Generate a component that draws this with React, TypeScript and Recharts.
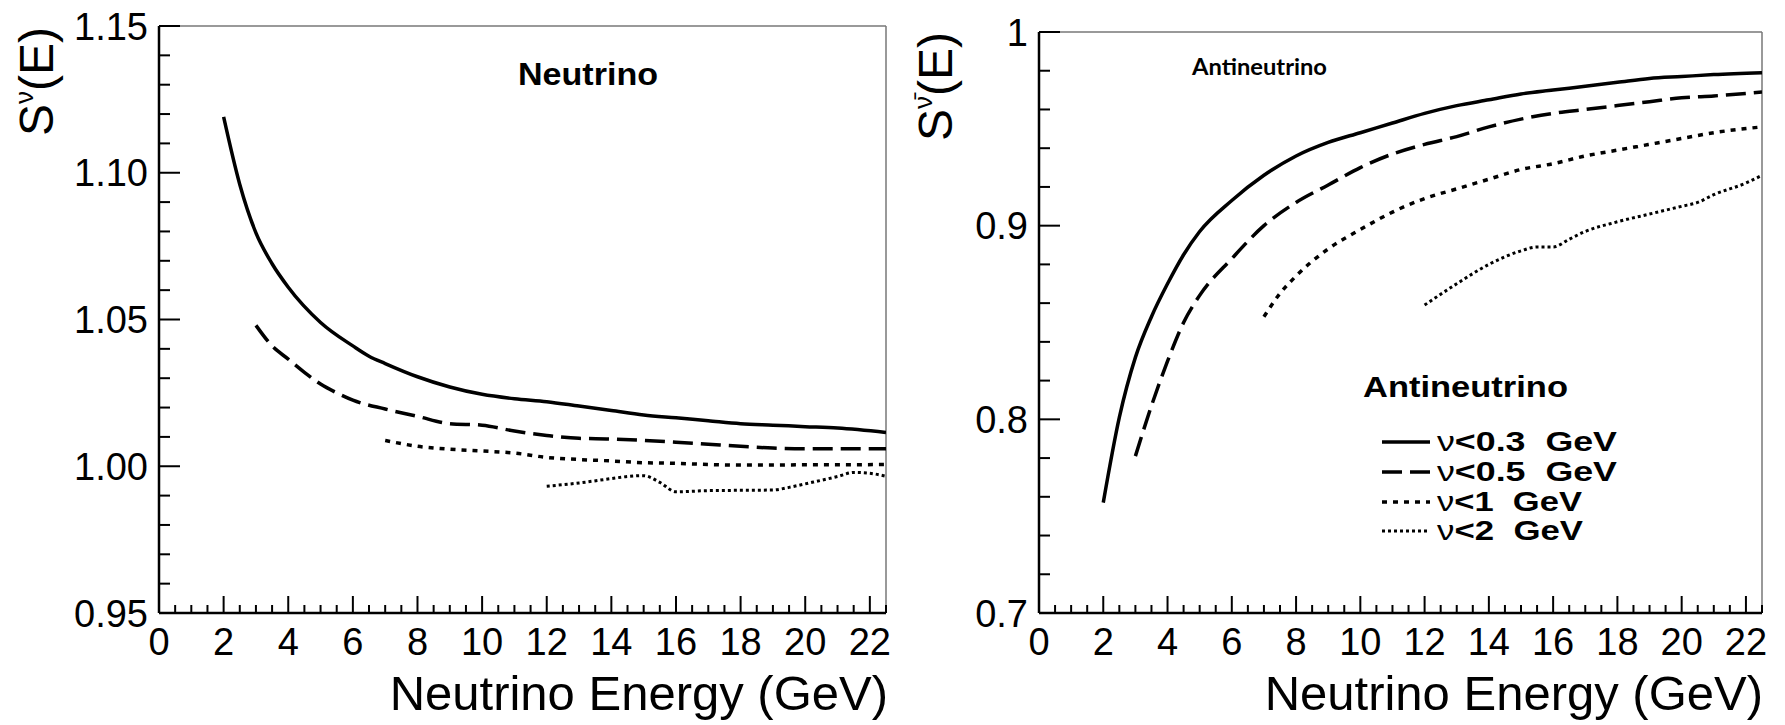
import React from "react";
import { LineChart, Line, XAxis, YAxis, ReferenceLine } from "recharts";

// ---- Neutrino panel: S^nu(E) vs neutrino energy (GeV) ----
const nuSolidE = [2, 2.5, 3, 3.5, 4, 5, 6, 6.5, 7, 8, 9, 10, 11, 12, 13, 14, 15, 16, 17, 18, 19, 20, 21, 22.5];
const nuSolidS = [1.119, 1.096, 1.0795, 1.069, 1.061, 1.049, 1.041, 1.0375, 1.035, 1.0305, 1.027, 1.0245, 1.023, 1.022, 1.0205, 1.019, 1.0175, 1.0165, 1.0155, 1.0145, 1.014, 1.0135, 1.013, 1.0115];

const nuDashE = [3, 3.5, 4, 4.5, 5, 5.5, 6, 7, 8, 9, 10, 11, 12, 13, 14, 15, 16, 17, 18, 19, 20, 21, 22.5];
const nuDashS = [1.048, 1.041, 1.0365, 1.032, 1.028, 1.025, 1.0225, 1.0195, 1.017, 1.0145, 1.014, 1.012, 1.0105, 1.0095, 1.0093, 1.0088, 1.0082, 1.0075, 1.0068, 1.0062, 1.006, 1.006, 1.006];

const nuDot1E = [7, 8, 9, 10, 11, 12, 13, 14, 15, 16, 17, 18, 19, 20, 21, 22.5];
const nuDot1S = [1.0088, 1.0068, 1.0058, 1.0052, 1.0045, 1.003, 1.0023, 1.0018, 1.0012, 1.001, 1.0006, 1.0004, 1.0004, 1.0005, 1.0005, 1.0006];

const nuDot2E = [12, 13, 14, 14.5, 15, 15.5, 16, 17, 18, 19, 19.5, 20, 21, 21.5, 22, 22.5];
const nuDot2S = [0.9932, 0.9943, 0.9958, 0.9965, 0.9968, 0.9945, 0.9913, 0.9917, 0.9918, 0.9919, 0.9928, 0.994, 0.9965, 0.9979, 0.9976, 0.9966];

// ---- Antineutrino panel ----
const antiSolidE = [2, 2.5, 3, 3.5, 4, 4.5, 5, 6, 7, 8, 9, 10, 11, 12, 13, 14, 15, 16, 17, 18, 19, 20, 21, 22.5];
const antiSolidS = [0.757, 0.801, 0.832, 0.853, 0.87, 0.885, 0.897, 0.913, 0.926, 0.936, 0.943, 0.948, 0.953, 0.958, 0.962, 0.965, 0.968, 0.97, 0.972, 0.974, 0.976, 0.977, 0.978, 0.979];

const antiDashE = [3, 3.5, 4, 4.5, 5, 6, 7, 8, 9, 10, 11, 12, 13, 14, 15, 16, 17, 18, 19, 20, 21, 22.5];
const antiDashS = [0.781, 0.807, 0.83, 0.85, 0.864, 0.883, 0.9, 0.912, 0.921, 0.93, 0.937, 0.942, 0.946, 0.951, 0.955, 0.958, 0.96, 0.962, 0.964, 0.966, 0.967, 0.969];

const antiDot1E = [7, 7.5, 8, 9, 10, 11, 12, 13, 14, 15, 16, 17, 18, 19, 20, 21, 22.5];
const antiDot1S = [0.853, 0.865, 0.874, 0.888, 0.898, 0.907, 0.914, 0.919, 0.924, 0.929, 0.932, 0.936, 0.939, 0.942, 0.945, 0.948, 0.951];

const antiDot2E = [12, 13, 14, 15, 15.5, 16, 16.5, 17, 18, 19, 20, 20.5, 21, 22, 22.5];
const antiDot2S = [0.859, 0.87, 0.88, 0.887, 0.889, 0.889, 0.893, 0.897, 0.902, 0.906, 0.91, 0.912, 0.916, 0.922, 0.926];

// axis labels
const xMajor = [0, 2, 4, 6, 8, 10, 12, 14, 16, 18, 20, 22];
const xLabels = ["0", "2", "4", "6", "8", "10", "12", "14", "16", "18", "20", "22"];
const nuYMajor = [0.95, 1.0, 1.05, 1.1, 1.15];
const nuYLabels = ["0.95", "1.00", "1.05", "1.10", "1.15"];
const antiYMajor = [0.7, 0.8, 0.9, 1.0];
const antiYLabels = ["0.7", "0.8", "0.9", "1"];
const cutLabels = ["0.3", "0.5", "1", "2"];

const zip = (xs: number[], ys: number[]) => xs.map((x, i) => ({ x, y: ys[i] }));

const nuSeries = [zip(nuSolidE, nuSolidS), zip(nuDashE, nuDashS), zip(nuDot1E, nuDot1S), zip(nuDot2E, nuDot2S)];
const antiSeries = [zip(antiSolidE, antiSolidS), zip(antiDashE, antiDashS), zip(antiDot1E, antiDot1S), zip(antiDot2E, antiDot2S)];

// line styles for the four nu cuts
const styles = [
  { dash: undefined as string | undefined, w: 3.5 },
  { dash: "20 8", w: 3.5 },
  { dash: "5 6", w: 3.5 },
  { dash: "3 3", w: 3 },
];

const FONT = "'Liberation Sans', Arial, Helvetica, sans-serif";

// minor ticks
const xTicks: number[] = [];
for (let i = 0; i <= 45; i++) xTicks.push(i / 2);
const nuYTicks: number[] = [];
for (let i = 95; i <= 115; i++) nuYTicks.push(i / 100);
const antiYTicks: number[] = [];
for (let i = 70; i <= 100; i += 2) antiYTicks.push(i / 100);

const findIdx = (arr: number[], v: number) => arr.findIndex((m) => Math.abs(m - v) < 1e-6);

const XTick = (props: any) => {
  const { x, y, payload } = props;
  const idx = findIdx(xMajor, payload.value);
  const major = idx >= 0;
  return (
    <g>
      <line x1={x} x2={x} y1={y} y2={y - (major ? 17 : 8)} stroke="#000" strokeWidth={2} />
      {major && (
        <text x={x} y={y + 42} textAnchor="middle" fontSize={38} fontFamily={FONT} fill="#000">
          {xLabels[idx]}
        </text>
      )}
    </g>
  );
};

const YTick = (props: any) => {
  const { x, y, payload, major, labels } = props;
  const idx = findIdx(major, payload.value);
  const isMajor = idx >= 0;
  return (
    <g>
      <line x1={x} x2={x + (isMajor ? 21 : 11)} y1={y} y2={y} stroke="#000" strokeWidth={2} />
      {isMajor && (
        <text x={x - 11} y={y + 13.5} textAnchor="end" fontSize={38} fontFamily={FONT} fill="#000">
          {labels[idx]}
        </text>
      )}
    </g>
  );
};

// axes need a non-zero size to render, so they get 1px and the margins shrink by 1
const Panel = ({ series, yDomain, yTicks, yMajor, yLabels, width, margin }: any) => (
  <LineChart width={width} height={725} margin={margin}>
    <XAxis
      type="number"
      dataKey="x"
      domain={[0, 22.5]}
      ticks={xTicks}
      interval={0}
      allowDataOverflow
      height={1}
      tickSize={0}
      tickMargin={0}
      tickLine={false}
      axisLine={{ stroke: "#000", strokeWidth: 2.5 }}
      tick={(p: any) => <XTick {...p} />}
    />
    <YAxis
      type="number"
      domain={yDomain}
      ticks={yTicks}
      interval={0}
      allowDataOverflow
      width={1}
      tickSize={0}
      tickMargin={0}
      tickLine={false}
      axisLine={{ stroke: "#000", strokeWidth: 2.5 }}
      tick={(p: any) => <YTick {...p} major={yMajor} labels={yLabels} />}
    />
    <ReferenceLine y={yDomain[1]} stroke="#777" strokeWidth={1.5} />
    <ReferenceLine x={22.5} stroke="#777" strokeWidth={1.5} />
    {series.map((d: any, i: number) => (
      <Line
        key={i}
        data={d}
        dataKey="y"
        type="monotone"
        stroke="#000"
        strokeWidth={styles[i].w}
        strokeDasharray={styles[i].dash}
        dot={false}
        activeDot={false}
        isAnimationActive={false}
      />
    ))}
  </LineChart>
);

const legendLineY = [442, 472, 502, 531];
const legendTextY = [451, 481, 511, 540];
const legendTextW = [180, 180, 145, 146];

const App = () => {
  return (
    <div style={{ position: "absolute", left: 0, top: 0, width: 1785, height: 725, background: "#fff" }}>
      <div style={{ position: "absolute", left: 0, top: 0 }}>
        <Panel
          series={nuSeries}
          yDomain={[0.95, 1.15]}
          yTicks={nuYTicks}
          yMajor={nuYMajor}
          yLabels={nuYLabels}
          width={900}
          margin={{ top: 26, right: 14, bottom: 111, left: 158 }}
        />
      </div>
      <div style={{ position: "absolute", left: 900, top: 0 }}>
        <Panel
          series={antiSeries}
          yDomain={[0.7, 1.0]}
          yTicks={antiYTicks}
          yMajor={antiYMajor}
          yLabels={antiYLabels}
          width={885}
          margin={{ top: 32, right: 23, bottom: 111, left: 138 }}
        />
      </div>
      <svg
        width={1785}
        height={725}
        style={{ position: "absolute", left: 0, top: 0, pointerEvents: "none" }}
      >
        {/* axis titles */}
        <text x={888} y={710} textAnchor="end" fontSize={49} fontFamily={FONT} fill="#000">
          Neutrino Energy (GeV)
        </text>
        <text x={1763} y={710} textAnchor="end" fontSize={49} fontFamily={FONT} fill="#000">
          Neutrino Energy (GeV)
        </text>
        <text transform="translate(53,27) rotate(-90)" textAnchor="end" fontSize={48} fontFamily={FONT} fill="#000">
          S<tspan fontSize={26} dy={-20}>ν</tspan>
          <tspan dy={20}>(E)</tspan>
        </text>
        <text transform="translate(952,32) rotate(-90)" textAnchor="end" fontSize={48} fontFamily={FONT} fill="#000">
          S<tspan fontSize={26} dy={-20}>{"ν\u0304"}</tspan>
          <tspan dy={20}>(E)</tspan>
        </text>

        {/* panel labels */}
        <text x={518} y={85} fontSize={32} fontWeight="bold" fontFamily={FONT} textLength={140} lengthAdjust="spacingAndGlyphs">
          Neutrino
        </text>
        <text x={1192} y={75} fontSize={22} fontWeight="bold" fontFamily="Lato, 'Open Sans', sans-serif" textLength={135} lengthAdjust="spacingAndGlyphs">
          Antineutrino
        </text>

        {/* legend */}
        <text x={1363} y={397} fontSize={30} fontWeight="bold" fontFamily={FONT} textLength={205} lengthAdjust="spacingAndGlyphs">
          Antineutrino
        </text>
        {cutLabels.map((c, i) => (
          <g key={c}>
            <line
              x1={1382}
              x2={1430}
              y1={legendLineY[i]}
              y2={legendLineY[i]}
              stroke="#000"
              strokeWidth={styles[i].w}
              strokeDasharray={styles[i].dash}
            />
            <text
              x={1437}
              y={legendTextY[i]}
              fontSize={28}
              fontWeight="bold"
              fontFamily={FONT}
              textLength={legendTextW[i]}
              lengthAdjust="spacingAndGlyphs"
              style={{ whiteSpace: "pre" }}
            >
              <tspan fontWeight="normal">ν</tspan>
              {"<" + c + "  GeV"}
            </text>
          </g>
        ))}
      </svg>
    </div>
  );
};

export default App;
